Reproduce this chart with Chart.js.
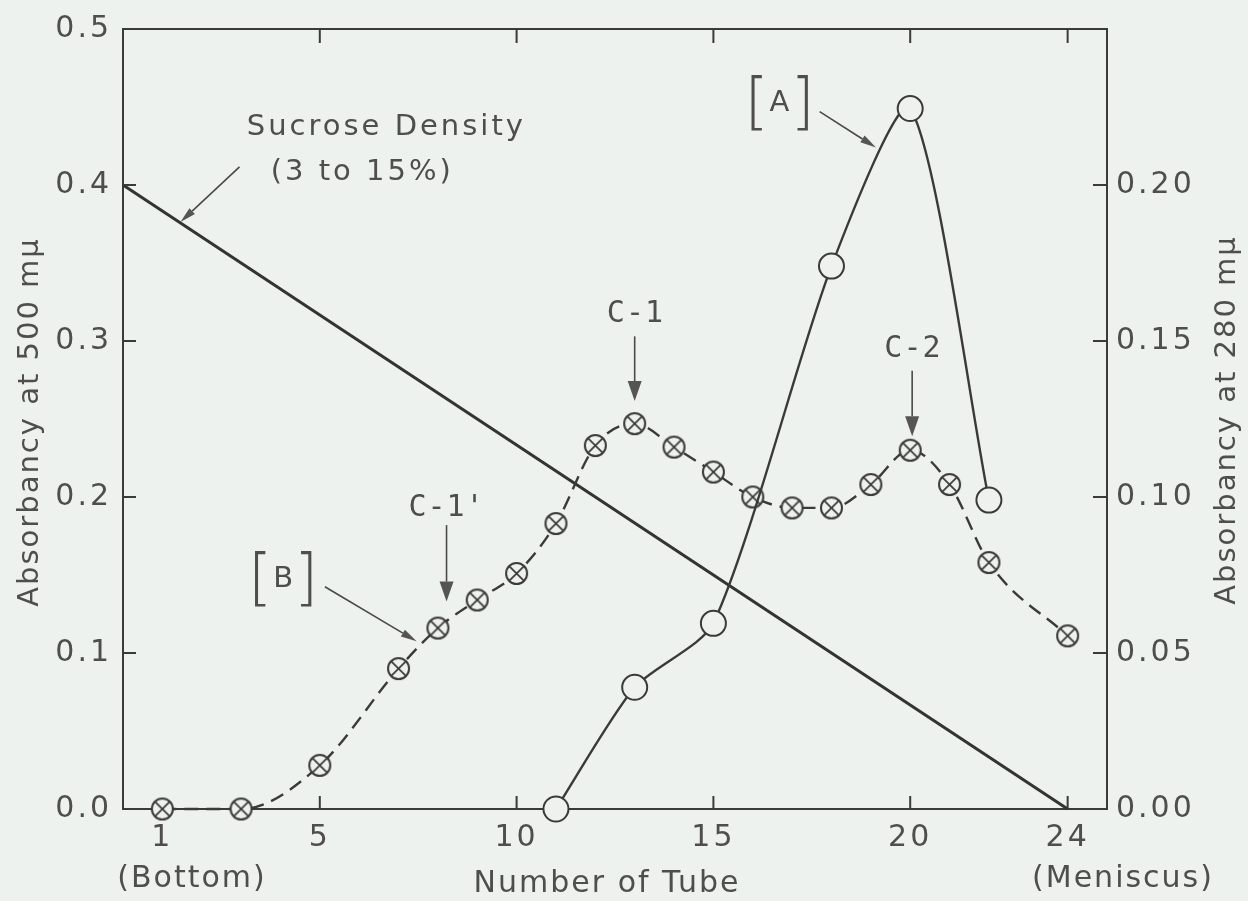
<!DOCTYPE html>
<html>
<head>
<meta charset="utf-8">
<script src="https://cdn.jsdelivr.net/npm/chart.js@4.4.1/dist/chart.umd.min.js"></script>
<style>
  html, body { margin: 0; padding: 0; background: #eef2ee; }
  #chart { display: block; }
</style>
</head>
<body>
<canvas id="chart" width="1248" height="901"></canvas>
<script>
// tube numbers and absorbancies
var tubesB = [1, 3, 5, 7, 8, 9, 10, 11, 12, 13, 14, 15, 16, 17, 18, 19, 20, 21, 22, 24];
var abs500 = [0, 0, 0.028, 0.09, 0.116, 0.134, 0.151, 0.183, 0.233, 0.247, 0.232, 0.216, 0.2, 0.193, 0.193, 0.208, 0.23, 0.208, 0.158, 0.111];

var tubesA = [11, 13, 15, 18, 20, 22];
var abs280 = [0, 0.039, 0.0595, 0.174, 0.2245, 0.099];

var sucroseTubes = [0, 24];
var sucroseLevel = [0.4, 0];

var xTickValues = [1, 5, 10, 15, 20, 24];
var leftTickValues = [0, 0.1, 0.2, 0.3, 0.4, 0.5];
var rightTickValues = [0, 0.05, 0.1, 0.15, 0.2];

var bg = '#eef2ee';
var ink = '#3a3a3a';
var txt = '#4e4e4e';

function pts(xs, ys) {
    return xs.map(function (x, i) { return { x: x, y: ys[i] }; });
}

function crossMarker(r) {
    var c = document.createElement('canvas');
    var s = Math.ceil(2 * r + 4);
    c.width = s; c.height = s;
    var g = c.getContext('2d');
    var m = s / 2;
    g.fillStyle = bg;
    g.strokeStyle = ink;
    g.lineWidth = 2;
    g.beginPath(); g.arc(m, m, r, 0, Math.PI * 2); g.fill(); g.stroke();
    var d = r * 0.7071;
    g.lineWidth = 1.7;
    g.beginPath();
    g.moveTo(m - d, m - d); g.lineTo(m + d, m + d);
    g.moveTo(m + d, m - d); g.lineTo(m - d, m + d);
    g.stroke();
    return c;
}

// annotations, positions in (tube, left-axis value)
var labelTexts = [
    { t: 'Sucrose Density', x: 6.69, y: 0.437, font: '29px "DejaVu Sans"' },
    { t: '(3 to 15%)', x: 6.08, y: 0.408, font: '29px "DejaVu Sans"' },
    { t: 'C-1', x: 13.02, y: 0.317, font: '30px "DejaVu Sans Mono"' },
    { t: 'C-2', x: 20.07, y: 0.295, font: '30px "DejaVu Sans Mono"' },
    { t: "C-1'", x: 8.22, y: 0.193, font: '30px "DejaVu Sans Mono"' }
];
var bracketTexts = [
    { t: 'A', x: 16.68, y: 0.452 },
    { t: 'B', x: 4.07, y: 0.147 }
];
var arrows = [
    { x1: 2.96, y1: 0.4116, x2: 1.46, y2: 0.3763, len: 16, w: 8 },
    { x1: 17.70, y1: 0.447, x2: 19.13, y2: 0.424, len: 16, w: 8 },
    { x1: 5.13, y1: 0.1425, x2: 7.46, y2: 0.1075, len: 16, w: 8 },
    { x1: 8.22, y1: 0.182, x2: 8.22, y2: 0.133, len: 20, w: 14 },
    { x1: 13.0, y1: 0.303, x2: 13.0, y2: 0.2615, len: 20, w: 14 },
    { x1: 20.05, y1: 0.281, x2: 20.05, y2: 0.239, len: 20, w: 14 }
];

function drawArrow(ctx, x1, y1, x2, y2, len, w) {
    var a = Math.atan2(y2 - y1, x2 - x1);
    var bx = x2 - len * Math.cos(a), by = y2 - len * Math.sin(a);
    ctx.beginPath();
    ctx.moveTo(x1, y1); ctx.lineTo(bx, by);
    ctx.stroke();
    ctx.beginPath();
    ctx.moveTo(x2, y2);
    ctx.lineTo(bx + w / 2 * Math.sin(a), by - w / 2 * Math.cos(a));
    ctx.lineTo(bx - w / 2 * Math.sin(a), by + w / 2 * Math.cos(a));
    ctx.closePath();
    ctx.fill();
}

var paperPlugin = {
    id: 'paper',
    beforeDraw: function (chart) {
        var ctx = chart.ctx;
        ctx.save();
        ctx.fillStyle = bg;
        ctx.fillRect(0, 0, chart.width, chart.height);
        ctx.restore();
        ctx.letterSpacing = '3px';
    },
    afterDraw: function (chart) {
        var ctx = chart.ctx;
        var xs = chart.scales.x, ys = chart.scales.y, yr = chart.scales.y2;
        var a = chart.chartArea;
        ctx.save();

        // inward tick marks
        ctx.strokeStyle = ink;
        ctx.lineWidth = 2;
        ctx.beginPath();
        xTickValues.slice(1).forEach(function (v) {
            var px = xs.getPixelForValue(v);
            ctx.moveTo(px, a.bottom); ctx.lineTo(px, a.bottom - 13);
            ctx.moveTo(px, a.top); ctx.lineTo(px, a.top + 14);
        });
        leftTickValues.slice(1, -1).forEach(function (v) {
            var py = ys.getPixelForValue(v);
            ctx.moveTo(a.left, py); ctx.lineTo(a.left + 13, py);
        });
        rightTickValues.slice(1).forEach(function (v) {
            var py = yr.getPixelForValue(v);
            ctx.moveTo(a.right, py); ctx.lineTo(a.right - 14, py);
        });
        ctx.stroke();

        // arrows
        ctx.strokeStyle = '#4a4a4a';
        ctx.fillStyle = '#555';
        ctx.lineWidth = 1.6;
        arrows.forEach(function (r) {
            drawArrow(ctx, xs.getPixelForValue(r.x1), ys.getPixelForValue(r.y1),
                xs.getPixelForValue(r.x2), ys.getPixelForValue(r.y2), r.len, r.w);
        });

        // texts
        ctx.fillStyle = txt;
        ctx.textAlign = 'center';
        ctx.textBaseline = 'middle';
        labelTexts.forEach(function (l) {
            ctx.font = l.font;
            ctx.letterSpacing = l.font.indexOf('Mono') > 0 ? '1px' : '3px';
            ctx.fillText(l.t, xs.getPixelForValue(l.x), ys.getPixelForValue(l.y));
        });
        ctx.letterSpacing = '0px';
        bracketTexts.forEach(function (l) {
            var px = xs.getPixelForValue(l.x), py = ys.getPixelForValue(l.y);
            ctx.font = '29px "DejaVu Sans"';
            ctx.fillText(l.t, px, py);
            ctx.font = '200 62px "DejaVu Sans"';
            ctx.fillText('[', px - 23, py + 2);
            ctx.fillText(']', px + 23, py + 2);
        });

        ctx.letterSpacing = '2px';
        ctx.font = '30px "DejaVu Sans"';
        ctx.fillText('Number of Tube', 607, 884);
        ctx.fillText('(Bottom)', 192, 879);
        ctx.fillText('(Meniscus)', 1123, 879);

        ctx.font = '29px "DejaVu Sans"';
        ctx.save();
        ctx.translate(30, 422);
        ctx.rotate(-Math.PI / 2);
        ctx.fillText('Absorbancy at 500 m\u03bc', 0, 0);
        ctx.restore();
        ctx.save();
        ctx.translate(1227, 420);
        ctx.rotate(-Math.PI / 2);
        ctx.fillText('Absorbancy at 280 m\u03bc', 0, 0);
        ctx.restore();

        ctx.restore();
        ctx.letterSpacing = '3px';
    }
};

var tickFont = { family: 'DejaVu Sans', size: 30 };

var ctx = document.getElementById('chart').getContext('2d');
var config = {
    type: 'line',
    data: {
        datasets: [
            {
                label: 'A (280 m\u03bc)',
                data: pts(tubesA, abs280),
                yAxisID: 'y2',
                borderColor: ink,
                borderWidth: 2.4,
                tension: 0.24,
                pointStyle: 'circle',
                pointRadius: 12.5,
                pointBorderWidth: 2,
                pointBorderColor: ink,
                pointBackgroundColor: bg,
                clip: false
            },
            {
                label: 'B (500 m\u03bc)',
                data: pts(tubesB, abs500),
                yAxisID: 'y',
                borderColor: ink,
                borderWidth: 2.4,
                borderDash: [14, 8],
                cubicInterpolationMode: 'monotone',
                pointStyle: crossMarker(10.5),
                pointRadius: 11,
                clip: false
            },
            {
                label: 'Sucrose density',
                data: pts(sucroseTubes, sucroseLevel),
                yAxisID: 'y',
                borderColor: '#333',
                borderWidth: 3,
                tension: 0,
                pointRadius: 0,
                clip: false
            }
        ]
    },
    options: {
        responsive: false,
        animation: false,
        events: [],
        layout: { padding: 0 },
        plugins: {
            legend: { display: false },
            tooltip: { enabled: false },
            title: { display: false }
        },
        scales: {
            x: {
                type: 'linear', position: 'bottom', min: 0, max: 25,
                afterBuildTicks: function (s) { s.ticks = xTickValues.map(function (v) { return { value: v }; }); },
                afterFit: function (s) { s.height = 92; },
                grid: { display: false, drawTicks: false },
                border: { display: true, color: ink, width: 2 },
                ticks: {
                    padding: 11, font: tickFont, color: txt, autoSkip: false, maxRotation: 0,
                    callback: function (v) { return String(v); }
                }
            },
            x2: {
                type: 'linear', position: 'top', min: 0, max: 25,
                afterFit: function (s) { s.height = 23; },
                grid: { display: false, drawTicks: false },
                border: { display: true, color: ink, width: 2 },
                ticks: { display: false }
            },
            y: {
                type: 'linear', position: 'left', min: 0, max: 0.5,
                afterBuildTicks: function (s) { s.ticks = leftTickValues.map(function (v) { return { value: v }; }); },
                afterFit: function (s) { s.width = 123; },
                grid: { display: false, drawTicks: false },
                border: { display: true, color: ink, width: 2 },
                ticks: {
                    padding: 11, font: tickFont, color: txt,
                    callback: function (v) { return v.toFixed(1); }
                }
            },
            y2: {
                type: 'linear', position: 'right', min: 0, max: 0.25,
                afterBuildTicks: function (s) { s.ticks = rightTickValues.map(function (v) { return { value: v }; }); },
                afterFit: function (s) { s.width = 141; },
                grid: { display: false, drawTicks: false },
                border: { display: true, color: ink, width: 2 },
                ticks: {
                    padding: 9, font: tickFont, color: txt,
                    callback: function (v) { return v.toFixed(2); }
                }
            }
        }
    },
    plugins: [paperPlugin]
};
window.fractionChart = new Chart(ctx, config);
</script>
</body>
</html>
